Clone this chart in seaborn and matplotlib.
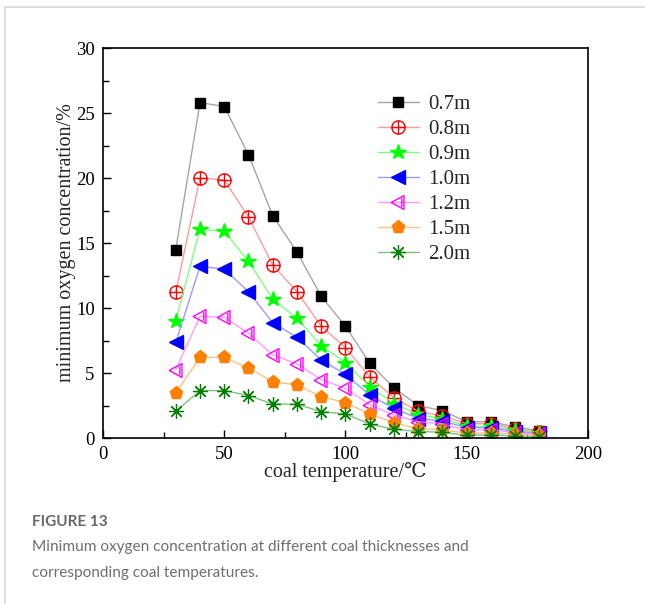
import numpy as np
import pandas as pd
import matplotlib
matplotlib.use("Agg")
import matplotlib.pyplot as plt
from matplotlib.path import Path
from matplotlib.lines import Line2D
from matplotlib.ticker import MultipleLocator
import seaborn as sns

# Coal temperature (°C) and minimum oxygen concentration (%) for each coal thickness
temperature = [30, 40, 50, 60, 70, 80, 90, 100, 110, 120, 130, 140, 150, 160, 170, 180]
thickness_labels = ["0.7m", "0.8m", "0.9m", "1.0m", "1.2m", "1.5m", "2.0m"]
o2_07 = [14.5, 25.8, 25.5, 21.8, 17.1, 14.3, 10.9, 8.6, 5.75, 3.85, 2.5, 2.1, 1.25, 1.25, 0.85, 0.55]
o2_08 = [11.2, 20.0, 19.85, 17.0, 13.3, 11.25, 8.6, 6.95, 4.7, 3.1, 2.05, 1.7, 1.1, 1.1, 0.7, 0.45]
o2_09 = [9.0, 16.05, 15.9, 13.6, 10.7, 9.2, 7.1, 5.8, 3.95, 2.65, 1.8, 1.5, 0.9, 0.9, 0.6, 0.4]
o2_10 = [7.35, 13.2, 13.0, 11.25, 8.87, 7.75, 6.0, 4.9, 3.3, 2.28, 1.5, 1.3, 0.8, 0.8, 0.5, 0.35]
o2_12 = [5.25, 9.35, 9.3, 8.05, 6.4, 5.7, 4.5, 3.82, 2.55, 1.77, 1.25, 1.1, 0.6, 0.65, 0.4, 0.3]
o2_15 = [3.45, 6.2, 6.2, 5.4, 4.33, 4.08, 3.18, 2.72, 1.85, 1.18, 0.7, 0.65, 0.35, 0.4, 0.3, 0.2]
o2_20 = [2.05, 3.65, 3.65, 3.27, 2.62, 2.6, 2.03, 1.85, 1.08, 0.67, 0.5, 0.45, 0.2, 0.25, 0.15, 0.1]
series = [o2_07, o2_08, o2_09, o2_10, o2_12, o2_15, o2_20]

# Custom marker shapes
M, L = Path.MOVETO, Path.LINETO
circle_plus = Path.make_compound_path(
    Path.unit_circle(),
    Path([[-1, 0], [1, 0], [0, -1], [0, 1]], [M, L, M, L]),
)
tri_left_bar = Path(
    [[-1, 0], [0.75, 0.95], [0.75, -0.95], [-1, 0], [0.45, 0.6], [0.45, -0.6]],
    [M, L, L, L, M, L],
)

styles = [
    dict(line="#a6a6a6", marker="s", mfc="black", mec="black", ms=7.5, mew=1.0),
    dict(line="#ff9a9a", marker=circle_plus, mfc="none", mec="#ff0000", ms=9.5, mew=1.0),
    dict(line="#7fff7f", marker="*", mfc="#00ff00", mec="#00ff00", ms=11.5, mew=1.0),
    dict(line="#9a9aff", marker="<", mfc="#0000ff", mec="#0000ff", ms=9.5, mew=1.0),
    dict(line="#ff9aff", marker=tri_left_bar, mfc="none", mec="#ff00ff", ms=10.5, mew=1.0),
    dict(line="#ffc08a", marker="p", mfc="#ff7f00", mec="#ff7f00", ms=9.5, mew=1.0),
    dict(line="#7fc07f", marker=(8, 2, 0), mfc="#007f00", mec="#007f00", ms=10.5, mew=0.9),
]

sns.set_theme(style="white")
plt.rcParams["font.family"] = ["Liberation Serif", "DejaVu Serif"]

fig = plt.figure(figsize=(6.45, 6.04), dpi=100)
ax = fig.add_axes([0.1597, 0.2748, 0.7519, 0.6457])

for label, vals, st in zip(thickness_labels, series, styles):
    df = pd.DataFrame({"temperature": temperature, "o2": vals})
    sns.lineplot(
        data=df, x="temperature", y="o2", ax=ax, errorbar=None,
        color=st["line"], lw=1.0, marker=st["marker"], markersize=st["ms"],
        markerfacecolor=st["mfc"], markeredgecolor=st["mec"], markeredgewidth=st["mew"],
        label=label,
    )

ax.set_xlim(0, 200)
ax.set_ylim(0, 30)
ax.xaxis.set_major_locator(MultipleLocator(50))
ax.xaxis.set_minor_locator(MultipleLocator(25))
ax.yaxis.set_major_locator(MultipleLocator(5))
ax.yaxis.set_minor_locator(MultipleLocator(2.5))
ax.tick_params(which="both", direction="in", top=False, right=False,
               bottom=True, left=True, colors="black", width=1.0)
ax.tick_params(which="major", length=6, labelsize=13.5, pad=6)
ax.tick_params(which="minor", length=4)
for sp in ax.spines.values():
    sp.set_color("black")
    sp.set_linewidth(1.2)

ax.set_xlabel("coal temperature/\u2103", fontsize=14.5, labelpad=-1)
ax.set_ylabel("minimum oxygen concentration/%", fontsize=14.5, labelpad=0)

ax.legend(loc="upper left", bbox_to_anchor=(0.567, 0.88), frameon=False,
          fontsize=15, handlelength=1.95, handletextpad=0.45, labelspacing=0.26,
          borderaxespad=0, borderpad=0)

# Card border and caption
fig.add_artist(Line2D([5 / 645, 1], [1 - 7 / 604, 1 - 7 / 604], color="#d9d9d9", lw=1.2))
fig.add_artist(Line2D([5 / 645, 5 / 645], [0, 1 - 7 / 604], color="#d9d9d9", lw=1.2))
fig.text(32 / 645, 1 - 522 / 604, "FIGURE 13", fontsize=11, color="#666666",
         family=["Lato", "DejaVu Sans"], fontweight="bold", va="center")
fig.text(32 / 645, 1 - 547 / 604,
         "Minimum oxygen concentration at different coal thicknesses and",
         fontsize=11.1, color="#6f6f6f", family=["Lato", "DejaVu Sans"], va="center")
fig.text(32 / 645, 1 - 573 / 604, "corresponding coal temperatures.",
         fontsize=11.1, color="#6f6f6f", family=["Lato", "DejaVu Sans"], va="center")

fig.savefig("out.png", dpi=100, facecolor="white")
